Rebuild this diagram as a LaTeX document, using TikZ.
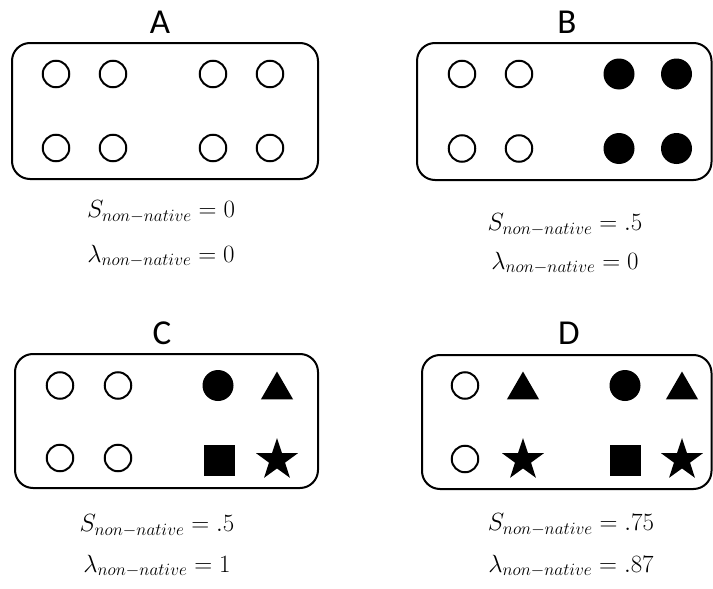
\documentclass[tikz,border=0pt]{standalone}
\usepackage{amsmath,amssymb}
\usepackage{fontspec}
\setmainfont{Carlito}
\usepackage{tikz}
\usetikzlibrary{shapes.geometric}

\begin{document}
\begin{tikzpicture}[x=1pt, y=-1pt,
  box/.style={draw, line width=2pt, rounded corners=18pt, inner sep=0pt},
  oc/.style={circle, draw, line width=2pt, inner sep=0pt, minimum size=26.5pt},
  fc/.style={circle, fill=black, inner sep=0pt, minimum size=31pt},
  fsq/.style={rectangle, fill=black, inner sep=0pt, minimum size=31pt},
  ftri/.style={regular polygon, regular polygon sides=3, fill=black, inner sep=0pt, minimum size=37pt},
  fstar/.style={star, star points=5, star point ratio=2.6, fill=black, inner sep=0pt, minimum size=44pt},
  ttl/.style={font=\fontsize{35}{40}\selectfont},
  lbl/.style={font=\fontsize{25.5}{30}\selectfont}]
  \useasboundingbox (0,0) rectangle (713,589);

  % panel frames
  \node[box, minimum width=306pt, minimum height=136pt] (boxA) at (165,111) {};
  \node[box, minimum width=294.5pt, minimum height=137pt] (boxB) at (564.25,111.5) {};
  \node[box, minimum width=303pt, minimum height=134pt] (boxC) at (166.5,421) {};
  \node[box, minimum width=289.5pt, minimum height=134pt] (boxD) at (566.75,422) {};

  \node[ttl] (tA) at (160,22) {A};
  \node[ttl] (tB) at (567,22) {B};
  \node[ttl] (tC) at (162,333) {C};
  \node[ttl] (tD) at (569,333) {D};

  % A: all open
  \foreach \x [count=\i] in {56,113,213,270} {
    \node[oc] (a1\i) at (\x,74) {};
    \node[oc] (a2\i) at (\x,148) {};
  }
  % B: two open, two filled per row
  \foreach \s/\x [count=\i] in {oc/462,oc/519,fc/619,fc/676.5} {
    \node[\s] (b1\i) at (\x,74) {};
    \node[\s] (b2\i) at (\x,148.5) {};
  }
  % C and D: mixed shapes
  \foreach \s/\p [count=\i] in {oc/{(60,385.5)},oc/{(118,385.5)},fc/{(218,385.5)},ftri/{(277,390)},
                               oc/{(60,458)},oc/{(118,458)},fsq/{(219,460)},fstar/{(277,460)}}
    \node[\s] (c\i) at \p {};
  \foreach \s/\p [count=\i] in {oc/{(465,385.5)},ftri/{(523,390)},fc/{(625,385.5)},ftri/{(682,390)},
                               oc/{(465,459)},fstar/{(523,460)},fsq/{(625.5,460)},fstar/{(682,460)}}
    \node[\s] (d\i) at \p {};

  \node[lbl] (sA) at (161,212) {$S_{non-native}=0$};
  \node[lbl] (lA) at (161,256) {$\lambda_{non-native}=0$};
  \node[lbl] (sB) at (565,225) {$S_{non-native}=.5$};
  \node[lbl] (lB) at (565,263) {$\lambda_{non-native}=0$};
  \node[lbl] (sC) at (157,526) {$S_{non-native}=.5$};
  \node[lbl] (lC) at (157,566) {$\lambda_{non-native}=1$};
  \node[lbl] (sD) at (571,525) {$S_{non-native}=.75$};
  \node[lbl] (lD) at (571,566) {$\lambda_{non-native}=.87$};
\end{tikzpicture}
\end{document}
